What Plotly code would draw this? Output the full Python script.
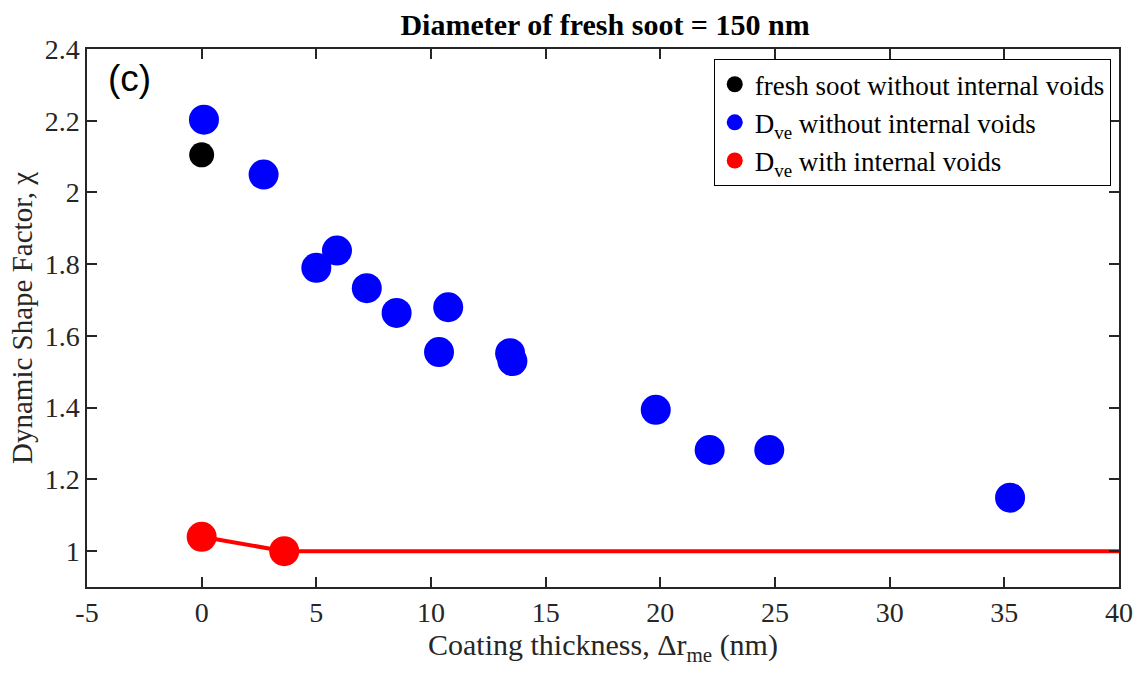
import plotly.graph_objects as go

# Data
fresh_x = [0.0]
fresh_y = [2.105]

dve_x = [0.1, 2.7, 5.0, 5.9, 7.2, 8.5, 10.35, 10.75, 13.45, 13.55, 19.8, 22.15, 24.75, 35.25]
dve_y = [2.203, 2.05, 1.79, 1.838, 1.733, 1.664, 1.555, 1.68, 1.552, 1.53, 1.394, 1.282, 1.282, 1.149]

void_x = [0.0, 3.6]
void_y = [1.04, 1.0]
void_line_x = [0.0, 3.6, 40.0]
void_line_y = [1.04, 1.0, 1.0]

xticks = [-5, 0, 5, 10, 15, 20, 25, 30, 35, 40]
yticks = [1, 1.2, 1.4, 1.6, 1.8, 2, 2.2, 2.4]
ytick_text = ["1", "1.2", "1.4", "1.6", "1.8", "2", "2.2", "2.4"]

serif = "Liberation Serif, Times New Roman, serif"
ink = "#262626"

fig = go.Figure()
fig.add_trace(go.Scatter(x=void_line_x, y=void_line_y, mode="lines",
                         line=dict(color="#ff0000", width=4), showlegend=False, hoverinfo="skip"))
fig.add_trace(go.Scatter(x=fresh_x, y=fresh_y, mode="markers",
                         marker=dict(color="black", size=25),
                         name="fresh soot without internal voids"))
fig.add_trace(go.Scatter(x=dve_x, y=dve_y, mode="markers",
                         marker=dict(color="#0000ff", size=30),
                         name="D<sub>ve</sub> without internal voids"))
fig.add_trace(go.Scatter(x=void_x, y=void_y, mode="markers",
                         marker=dict(color="#ff0000", size=30),
                         name="D<sub>ve</sub> with internal voids"))

axis_common = dict(
    showline=True, linecolor=ink, linewidth=1.5, mirror="ticks",
    ticks="inside", ticklen=10, tickwidth=1.5, tickcolor=ink,
    showgrid=False, zeroline=False,
    tickfont=dict(family=serif, size=28, color=ink),
)

fig.update_layout(
    width=1145, height=674,
    margin=dict(l=87, r=20, t=49, b=87),
    paper_bgcolor="white", plot_bgcolor="white",
    title=dict(text="<b>Diameter of fresh soot = 150 nm</b>", x=0.5284, xanchor="center",
               y=0.963, yanchor="middle",
               font=dict(family=serif, size=30, color="black")),
    xaxis=dict(range=[-5, 40], tickvals=xticks, ticktext=[str(v) for v in xticks],
               title=dict(text="Coating thickness, Δr<sub>me</sub> (nm)",
                          font=dict(family=serif, size=30, color=ink), standoff=4),
               **axis_common),
    yaxis=dict(range=[0.9, 2.4], tickvals=yticks, ticktext=ytick_text,
               title=dict(text="Dynamic Shape Factor, χ",
                          font=dict(family=serif, size=29, color=ink), standoff=4),
               **axis_common),
    legend=dict(x=0.992, y=0.981, xanchor="right", yanchor="top",
                bgcolor="white", bordercolor="black", borderwidth=1,
                font=dict(family=serif, size=27, color="black"),
                itemsizing="trace", tracegroupgap=0, itemwidth=30),
    annotations=[dict(text="(c)", xref="paper", yref="paper", x=0.018, y=0.945,
                      xanchor="left", yanchor="middle", showarrow=False,
                      font=dict(family="Liberation Sans, Arial, sans-serif", size=37, color="black"))],
)

fig.write_html("out.html")
